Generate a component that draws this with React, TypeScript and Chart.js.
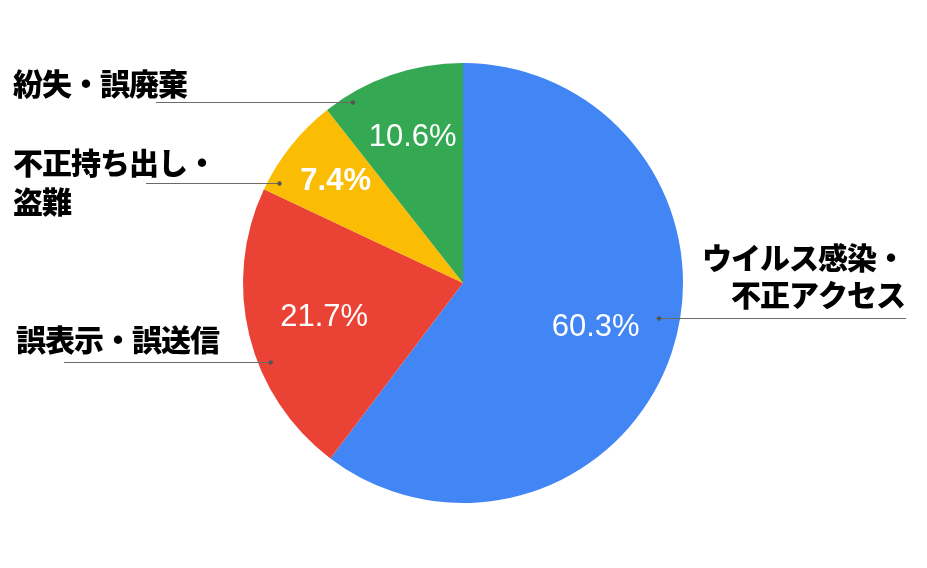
import React, { useEffect, useRef } from "react";
import { Chart, registerables } from "chart.js";

Chart.register(...registerables);

const categories = ["ウイルス感染・不正アクセス", "誤表示・誤送信", "不正持ち出し・盗難", "紛失・誤廃棄"];
const values = [60.3, 21.7, 7.4, 10.6];
const percentLabels = ["60.3%", "21.7%", "7.4%", "10.6%"];
const labelLines = [["ウイルス感染・", "不正アクセス"], ["誤表示・誤送信"], ["不正持ち出し・", "盗難"], ["紛失・誤廃棄"]];
const colors = ["#4285F4", "#EA4335", "#FBBC04", "#34A853"];

const labelLayout = [
  { align: "right", textX: 905, textY: 257.5, lineH: 37.5, leaderY: 318, leaderEndX: 906, dotFrac: 0.905, pctFrac: 0.636, pctBold: false },
  { align: "left", textX: 16, textY: 340, lineH: 38, leaderY: 362, leaderEndX: 64, dotFrac: 0.945, pctFrac: 0.65, pctBold: false },
  { align: "left", textX: 13, textY: 163, lineH: 39, leaderY: 183, leaderEndX: 146, dotFrac: 0.95, pctFrac: 0.74, pctBold: true },
  { align: "left", textX: 13, textY: 83.5, lineH: 38, leaderY: 102, leaderEndX: 156, dotFrac: 0.963, pctFrac: 0.70, pctBold: false },
];

const labelPlugin = {
  id: "customLabels",
  afterDatasetsDraw(chart: any) {
    const ctx = chart.ctx;
    const meta = chart.getDatasetMeta(0);
    meta.data.forEach((arc: any, i: number) => {
      const cfg = labelLayout[i];
      const { x, y, startAngle, endAngle, outerRadius } = arc.getProps(
        ["x", "y", "startAngle", "endAngle", "outerRadius"],
        true
      );
      const mid = (startAngle + endAngle) / 2;
      // percent label
      ctx.save();
      ctx.fillStyle = "#ffffff";
      ctx.font = `${cfg.pctBold ? "bold " : ""}31px "Liberation Sans", Arial, sans-serif`;
      ctx.textAlign = "center";
      ctx.textBaseline = "middle";
      const pr = outerRadius * cfg.pctFrac;
      ctx.fillText(percentLabels[i], x + Math.cos(mid) * pr, y + Math.sin(mid) * pr);
      ctx.restore();

      // leader line
      const dr = outerRadius * cfg.dotFrac;
      const dy = cfg.leaderY - y;
      const dxAbs = Math.sqrt(Math.max(dr * dr - dy * dy, 0));
      const side = cfg.align === "right" ? 1 : -1;
      const dotX = x + side * dxAbs;
      ctx.save();
      ctx.strokeStyle = "#6b6b6b";
      ctx.lineWidth = 1;
      ctx.beginPath();
      ctx.moveTo(cfg.leaderEndX, cfg.leaderY + 0.5);
      ctx.lineTo(dotX, cfg.leaderY + 0.5);
      ctx.stroke();
      ctx.fillStyle = "#555555";
      ctx.beginPath();
      ctx.arc(dotX, cfg.leaderY + 0.5, 2.2, 0, Math.PI * 2);
      ctx.fill();
      ctx.restore();

      // category text
      ctx.save();
      ctx.fillStyle = "#000000";
      ctx.font = `900 30px "Noto Sans CJK JP", sans-serif`;
      try {
        (ctx as any).letterSpacing = "-1px";
      } catch (e) {}
      ctx.textAlign = cfg.align as CanvasTextAlign;
      ctx.textBaseline = "middle";
      labelLines[i].forEach((line, j) => {
        ctx.fillText(line, cfg.textX, cfg.textY + j * cfg.lineH);
      });
      ctx.restore();
    });
  },
};

export default function App() {
  const canvasRef = useRef<HTMLCanvasElement | null>(null);

  useEffect(() => {
    if (!canvasRef.current) return;
    const chart = new Chart(canvasRef.current, {
      type: "pie",
      data: {
        labels: categories,
        datasets: [
          {
            data: values,
            backgroundColor: colors,
            borderWidth: 0,
          },
        ],
      },
      options: {
        animation: false,
        responsive: true,
        maintainAspectRatio: false,
        layout: { padding: { top: 63, bottom: 65, left: 0, right: 1 } },
        plugins: {
          legend: { display: false },
          tooltip: { enabled: false },
        },
        events: [],
      },
      plugins: [labelPlugin],
    });
    return () => chart.destroy();
  }, []);

  return (
    <div style={{ position: "fixed", left: 0, top: 0, width: 927, height: 568, background: "#ffffff" }}>
      <canvas ref={canvasRef} />
    </div>
  );
}
